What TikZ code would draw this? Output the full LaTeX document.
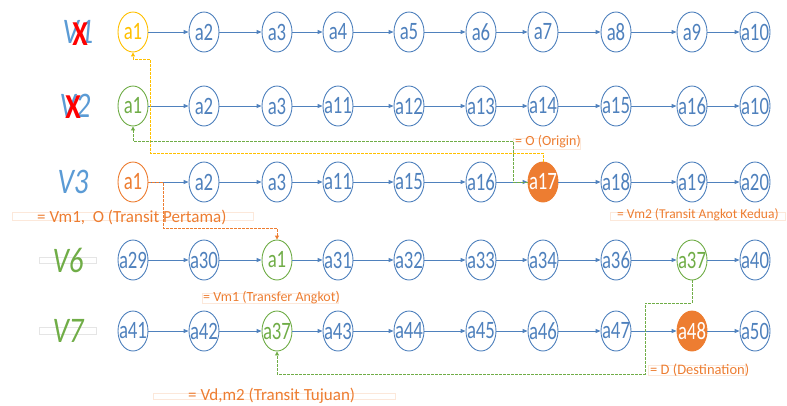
\documentclass[tikz,border=0pt]{standalone}
\usepackage{fontspec}
\setmainfont{Carlito}
\newfontfamily\stopfont[FakeStretch=0.75]{Carlito}
\newfontfamily\routefont[FakeStretch=0.8]{Carlito}
\usetikzlibrary{shapes.geometric,arrows.meta}

\definecolor{nblue}{RGB}{79,129,189}
\definecolor{lblue}{RGB}{91,155,213}
\definecolor{horange}{RGB}{237,125,49}
\definecolor{hgreen}{RGB}{112,173,71}
\definecolor{hgold}{RGB}{255,192,0}
\definecolor{hred}{RGB}{255,0,0}

% one row of stops: #1 row name, #2 y position, #3 label/style list
\newcommand\stoprow[3]{%
  \foreach \lab/\st [count=\i] in {#3} {%
    \pgfmathsetmacro\cx{{133,204,277,338,409,481,543,616,692,755}[\i-1]}%
    \node[\st] (#1-\i) at (\cx,#2) {\makebox[0pt]{\lab}};
  }%
  \foreach \i [evaluate=\i as \j using int(\i+1)] in {1,...,9} {%
    \draw[flow] (#1-\i) -- (#1-\j);
  }%
}

\begin{document}
\begin{tikzpicture}[x=1pt,y=-1pt,
  stn/.style={ellipse, draw=nblue, line width=0.9pt, fill=white,
    minimum width=30pt, minimum height=40pt, inner sep=0pt,
    text=nblue, font=\stopfont\fontsize{25}{28}\selectfont},
  ystn/.style={stn, draw=hgold, text=hgold},
  gstn/.style={stn, draw=hgreen, text=hgreen},
  ostn/.style={stn, draw=horange, text=horange},
  fstn/.style={stn, draw=horange, fill=horange, text=white},
  flow/.style={draw=nblue, line width=0.9pt, -{Triangle[length=5pt,width=4pt]}},
  link/.style={dash pattern=on 2.5pt off 1.5pt, line width=0.9pt,
    -{Triangle[length=4pt,width=4pt]}},
  route/.style={font=\routefont\itshape\fontsize{36}{40}\selectfont, inner sep=0pt},
  cross/.style={font=\routefont\bfseries\fontsize{35}{38}\selectfont, text=hred, inner sep=0pt},
  note/.style={text=horange, inner sep=0pt, anchor=west},
  notebox/.style={draw=horange!18, line width=0.6pt},
  tagbox/.style={draw=black!10, line width=0.6pt}
]
\useasboundingbox (0,0) rectangle (787,405);

% faint text frames
\draw[notebox] (12,212) rectangle (253,220);
\draw[notebox] (513,138) rectangle (580,149);
\draw[notebox] (610,212) rectangle (785,220);
\draw[notebox] (202,293) rectangle (338,303);
\draw[notebox] (648,365) rectangle (745,375);
\draw[notebox] (153,393) rectangle (395,399);
\draw[tagbox] (39,257) rectangle (96,263);
\draw[tagbox] (39,327) rectangle (96,334);

% route names
\node[route, text=lblue] (v1) at (78,32) {V1};
\node[cross] (x1) at (80,34) {X};
\node[route, text=lblue] (v2) at (75,106) {V2};
\node[cross] (x2) at (73,107) {X};
\node[route, text=lblue] (v3) at (73,182) {V3};
\node[route, text=hgreen] (v6) at (68,260) {V6};
\node[route, text=hgreen] (v7) at (68,331) {V7};

% stops of each route
\stoprow{r1}{32}{a1/ystn,a2/stn,a3/stn,a4/stn,a5/stn,a6/stn,a7/stn,a8/stn,a9/stn,a10/stn}
\stoprow{r2}{106}{a1/gstn,a2/stn,a3/stn,a11/stn,a12/stn,a13/stn,a14/stn,a15/stn,a16/stn,a10/stn}
\stoprow{r3}{182}{a1/ostn,a2/stn,a3/stn,a11/stn,a15/stn,a16/stn,a17/fstn,a18/stn,a19/stn,a20/stn}
\stoprow{r4}{260}{a29/stn,a30/stn,a1/gstn,a31/stn,a32/stn,a33/stn,a34/stn,a36/stn,a37/gstn,a40/stn}
\stoprow{r5}{331}{a41/stn,a42/stn,a37/gstn,a43/stn,a44/stn,a45/stn,a46/stn,a47/stn,a48/fstn,a50/stn}

% transfer links
\draw[link, draw=hgold] (r3-7.north) |- (150,153) -- (150,59) -| (r1-1.south);
\draw[link, draw=hgreen] (r3-7.west) -- (513,182) -- (513,141) -| (r2-1.south);
\draw[link, draw=horange] (r3-1.east) -- (163,182) -- (163,228) -| (r4-3.north);
\draw[link, draw=hgreen] (r4-9.south) -- (692,303) -| (645,374) -| (r5-3.south);

% annotations
\node[note, font=\fontsize{14}{16}\selectfont] (lo) at (515,142) {= O (Origin)};
\node[note, font=\fontsize{17}{20}\selectfont] (lt1) at (37,217) {= Vm1,\ \ O (Transit Pertama)};
\node[note, font=\fontsize{13.5}{16}\selectfont] (lt2) at (617,215) {= Vm2 (Transit Angkot Kedua)};
\node[note, font=\fontsize{14}{17}\selectfont] (lta) at (203,298) {= Vm1 (Transfer Angkot)};
\node[note, font=\fontsize{14.5}{17}\selectfont] (ld) at (650,370) {= D (Destination)};
\node[note, font=\fontsize{17}{20}\selectfont] (ltt) at (188,396) {= Vd,m2 (Transit Tujuan)};
\end{tikzpicture}
\end{document}
